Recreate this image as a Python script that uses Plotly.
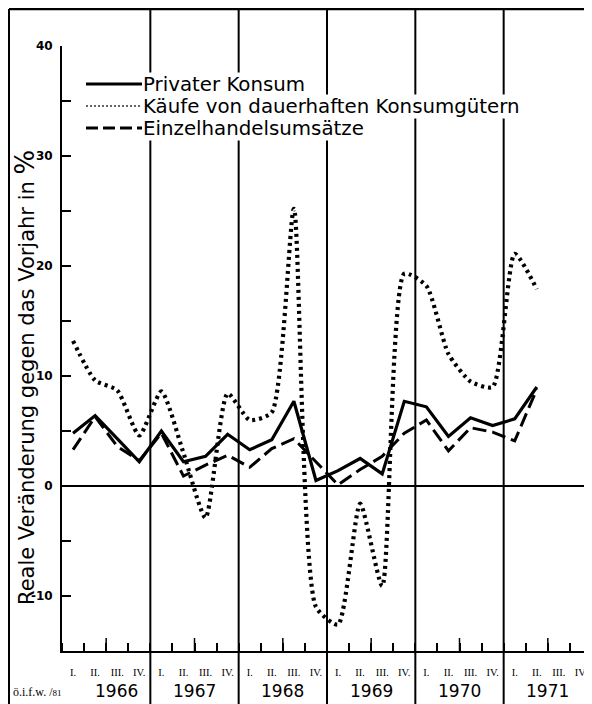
import plotly.graph_objects as go

# ---- data (1966 I .. 1971 II, quarterly, % change vs. previous year) ----
years = ["1966", "1967", "1968", "1969", "1970", "1971"]
quarter_names = ["I.", "II.", "III.", "IV."]

privater_konsum = [4.8, 6.4, 4.3, 2.2, 5.0, 2.2, 2.7, 4.7, 3.3, 4.2, 7.7, 0.5,
                   1.4, 2.5, 1.1, 7.7, 7.2, 4.5, 6.2, 5.5, 6.1, 9.0]
dauerhafte_gueter = [13.2, 9.6, 8.7, 4.6, 8.6, 3.0, -2.9, 8.4, 6.0, 6.7, 25.2, -11.0,
                     -12.6, -1.6, -9.1, 19.3, 18.2, 12.0, 9.5, 9.0, 21.1, 17.9]
einzelhandel = [3.3, 6.3, 3.6, 2.3, 4.8, 0.9, 1.9, 2.8, 1.7, 3.4, 4.3, 2.2,
                0.1, 1.5, 2.7, 4.8, 6.0, 3.2, 5.3, 4.9, 4.1, 8.8]

series_names = ["Privater Konsum", "Käufe von dauerhaften Konsumgütern", "Einzelhandelsumsätze"]
y_ticks = [-10, 0, 10, 20, 30, 40]

# ---- positions on a quarter scale (0 = start of 1966) ----
n = len(privater_konsum)
xq = [i + 0.5 for i in range(n)]
all_q = [i + 0.5 for i in range(4 * len(years))]
all_q_labels = quarter_names * len(years)
XR = [0, 4 * len(years)]
YR = [-15, 40]

OFF = 8  # page body margin
W, H = 592 - OFF, 704 - OFF
ML, MR, MT, MB = 62 - OFF, 0, 46 - OFF, 704 - 651
PW, PH = W - ML - MR, H - MT - MB

def px_x(px):  # reference-page pixel -> paper x
    return (px - OFF - ML) / PW

def px_y(py):  # reference-page pixel -> paper y
    return (H - MB - (py - OFF)) / PH

def data_x_to_paper(x):
    return (x - XR[0]) / (XR[1] - XR[0])

FONT = "DejaVu Sans"

styles = [dict(color="black", width=3.2),
          dict(color="black", width=4.2, dash="3px,4px", shape="spline", smoothing=0.6),
          dict(color="black", width=3, dash="14px,6px")]
legend_styles = [dict(color="black", width=3),
                 dict(color="#333333", width=1.6, dash="2px,2px"),
                 dict(color="black", width=3, dash="12px,5px")]

fig = go.Figure()
for name, vals, st in zip(series_names, [privater_konsum, dauerhafte_gueter, einzelhandel], styles):
    fig.add_trace(go.Scatter(x=xq, y=vals, mode="lines", name=name, line=st, showlegend=False))

shapes = []
top_y = px_y(OFF + 1)
bot_y = px_y(704)
# year separators
for k in range(1, len(years)):
    xp = data_x_to_paper(4 * k)
    shapes.append(dict(type="line", xref="paper", yref="paper", x0=xp, x1=xp,
                       y0=bot_y, y1=top_y, line=dict(color="black", width=2), layer="below"))
# frame lines (top, left)
shapes.append(dict(type="line", xref="paper", yref="paper", x0=px_x(OFF + 1), x1=1,
                   y0=top_y, y1=top_y, line=dict(color="black", width=2.5)))
shapes.append(dict(type="line", xref="paper", yref="paper", x0=px_x(OFF + 1), x1=px_x(OFF + 1),
                   y0=bot_y, y1=top_y, line=dict(color="black", width=2)))
# taller mid-year ticks
for k in range(len(years)):
    shapes.append(dict(type="line", xref="x", yref="paper", x0=4 * k + 2, x1=4 * k + 2,
                       y0=0, y1=13 / PH, line=dict(color="black", width=1.5)))

annotations = []
# legend (key lines + labels)
legend_rows_y = [84, 106, 128]
for name, st, yy in zip(series_names, legend_styles, legend_rows_y):
    shapes.append(dict(type="line", xref="paper", yref="paper", x0=px_x(86), x1=px_x(142),
                       y0=px_y(yy), y1=px_y(yy), line=dict(color=st["color"], width=st["width"],
                                                            dash=st.get("dash", "solid"))))
    annotations.append(dict(xref="paper", yref="paper", x=px_x(142), y=px_y(yy), text=name,
                            showarrow=False, xanchor="left", yanchor="middle", bgcolor="white",
                            borderpad=0, font=dict(family=FONT, size=19.8, color="black")))
# y-axis title
annotations.append(dict(xref="paper", yref="paper", x=px_x(25), y=px_y(378),
                        text="Reale Veränderung gegen das Vorjahr in <span style='font-size:26px'>%</span>",
                        textangle=-90, showarrow=False, xanchor="center", yanchor="middle",
                        font=dict(family=FONT, size=21, color="black")))
# year labels
for k, yr in enumerate(years):
    xx = 4 * k + 2 + (0.45 if k == 0 else 0)
    annotations.append(dict(xref="x", yref="paper", x=xx, y=px_y(691), text=yr,
                            showarrow=False, xanchor="center", yanchor="middle",
                            font=dict(family=FONT, size=17, color="black")))
annotations.append(dict(xref="paper", yref="paper", x=px_x(11), y=px_y(692),
                        text="ö.i.f.w. /<span style='font-size:9px'>81</span>",
                        showarrow=False, xanchor="left", yanchor="middle",
                        font=dict(family="Liberation Sans Narrow", size=12, color="black")))

fig.update_layout(
    width=W, height=H,
    margin=dict(l=ML, r=MR, t=MT, b=MB, pad=0),
    paper_bgcolor="white", plot_bgcolor="white",
    font=dict(family=FONT, color="black"),
    shapes=shapes, annotations=annotations,
    showlegend=False,
)
fig.update_xaxes(range=XR, showgrid=False, zeroline=False,
                 showline=True, linecolor="black", linewidth=2,
                 tickmode="array", tickvals=all_q, ticktext=all_q_labels,
                 ticks="", ticklabelstandoff=10,
                 tickfont=dict(family="Liberation Serif", size=10.5, color="black"),
                 minor=dict(dtick=1, tick0=0, ticks="inside", ticklen=8, tickwidth=1.5, tickcolor="black"))
fig.update_yaxes(range=YR, showgrid=False, zeroline=True, zerolinecolor="black", zerolinewidth=2,
                 showline=True, linecolor="black", linewidth=2,
                 tickmode="array", tickvals=y_ticks, ticktext=[str(v) for v in y_ticks],
                 ticks="inside", ticklen=9, tickwidth=2, tickcolor="black",
                 ticklabelstandoff=5,
                 tickfont=dict(family=FONT, size=12, color="black", weight="bold"),
                 minor=dict(dtick=5, tick0=0, ticks="inside", ticklen=9, tickwidth=2, tickcolor="black"))

fig.write_html("out.html")
